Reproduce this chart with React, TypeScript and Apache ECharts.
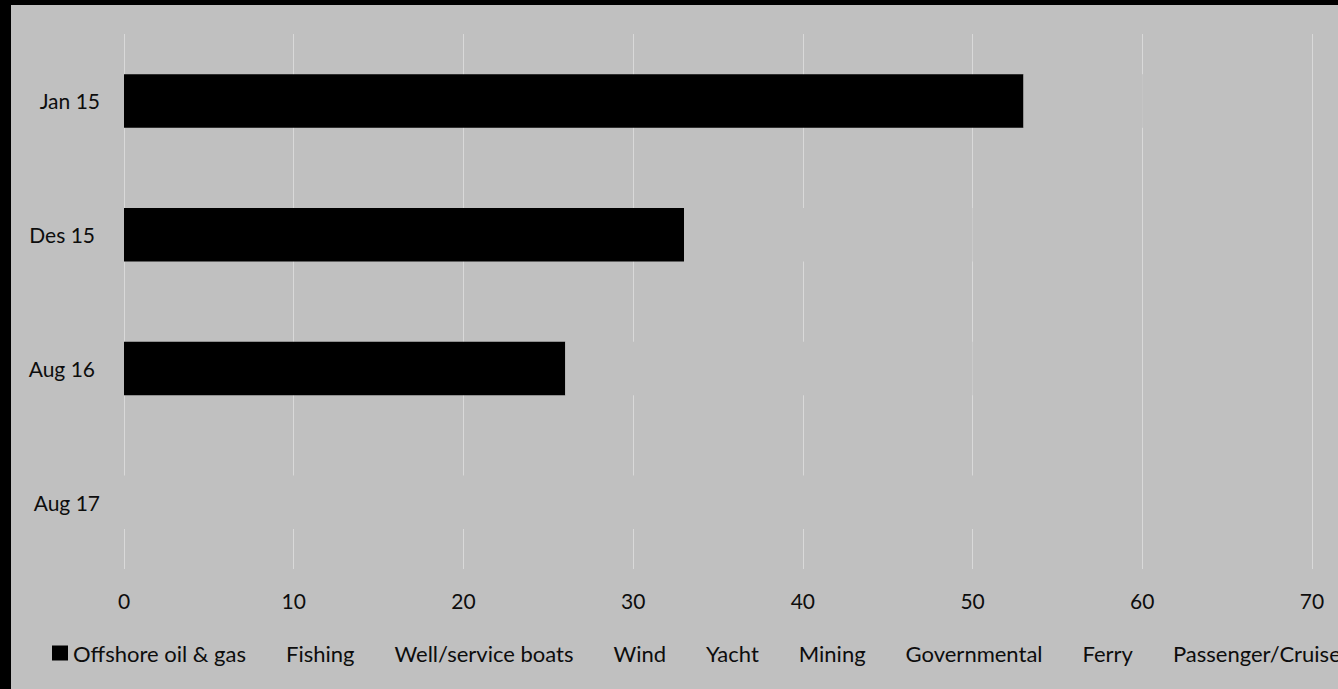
import React, { useEffect, useRef } from "react";
import * as echarts from "echarts";

const categories = ["Jan 15", "Des 15", "Aug 16", "Aug 17"];
const labelPad = [0, 5, 5, 0];
const seriesNames = [
  "Offshore oil & gas",
  "Fishing",
  "Well/service boats",
  "Wind",
  "Yacht",
  "Mining",
  "Governmental",
  "Ferry",
  "Passenger/Cruise",
];
const offshore = [53, 33, 26, 0];
const fishing = [2, 4, 6, 12];
const wellService = [2, 4, 5, 11];
const wind = [1, 3, 4, 9];
const yacht = [1, 2, 3, 7];
const mining = [1, 1, 2, 6];
const governmental = [1, 1, 2, 4];
const ferry = [1, 1, 1, 3];
const passenger = [0, 1, 1, 3];
const xTicks = { min: 0, max: 70, interval: 10 };

const seriesValues = [offshore, fishing, wellService, wind, yacht, mining, governmental, ferry, passenger];
const seriesColors = ["#000000", "#c0c0c0", "#c0c0c0", "#c0c0c0", "#c0c0c0", "#c0c0c0", "#c0c0c0", "#c0c0c0", "#c0c0c0"];

const FONT = "Lato";

export default function App() {
  const ref = useRef<HTMLDivElement>(null);
  useEffect(() => {
    if (!ref.current) return;
    const chart = echarts.init(ref.current, undefined, { renderer: "svg" });
    chart.setOption({
      animation: false,
      backgroundColor: "#c0c0c0",
      textStyle: { fontFamily: FONT },
      grid: { left: 113, top: 29, width: 1188, height: 535, containLabel: false },
      legend: {
        left: 36,
        top: 632,
        itemWidth: 16,
        itemHeight: 15,
        itemGap: 19,
        icon: "rect",
        textStyle: { fontFamily: FONT, fontSize: 22, color: "#0d0d0d" },
        data: seriesNames.map((n, i) => ({ name: n, itemStyle: { color: seriesColors[i] } })),
      },
      xAxis: {
        type: "value",
        min: xTicks.min,
        max: xTicks.max,
        interval: xTicks.interval,
        axisLine: { show: false },
        axisTick: { show: false },
        splitLine: { show: true, lineStyle: { color: "#d9d9d9", width: 1 } },
        axisLabel: { fontFamily: FONT, fontSize: 21, color: "#0d0d0d", margin: 21 },
      },
      yAxis: {
        type: "category",
        inverse: true,
        data: categories.map((c, i) => ({ value: c, textStyle: { padding: [0, labelPad[i], 0, 0] } })),
        axisLine: { show: false },
        axisTick: { show: false },
        splitLine: { show: false },
        axisLabel: { fontFamily: FONT, fontSize: 21, color: "#0d0d0d", margin: 24 },
      },
      series: seriesNames.map((n, i) => ({
        name: n,
        type: "bar",
        stack: "total",
        barCategoryGap: "60%",
        itemStyle: { color: seriesColors[i] },
        emphasis: { disabled: true },
        data: seriesValues[i],
      })),
    });
    return () => chart.dispose();
  }, []);
  return (
    <div style={{ position: "fixed", left: 0, top: 0, width: 1400, height: 720, background: "#000" }}>
      <div
        ref={ref}
        style={{ position: "absolute", left: 11, top: 5, width: 1370, height: 700 }}
      />
    </div>
  );
}
